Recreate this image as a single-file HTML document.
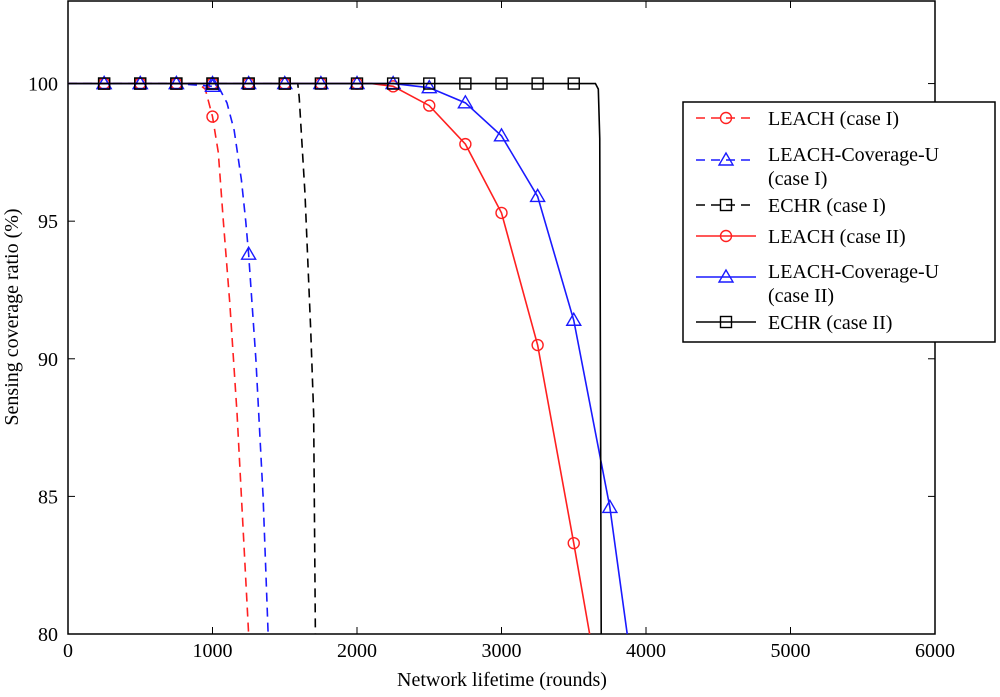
<!DOCTYPE html>
<html><head><meta charset="utf-8"><style>
body{margin:0;background:#fff}
svg text{font-family:"Liberation Serif",serif;fill:#000}
</style></head><body>
<svg id="c" width="1000" height="692" xmlns="http://www.w3.org/2000/svg"></svg>
<script>
const xTicks=[0,1000,2000,3000,4000,5000,6000];
const yTicks=[80,85,90,95,100];
const seriesNames=["LEACH (case I)","LEACH-Coverage-U|(case I)","ECHR (case I)","LEACH (case II)","LEACH-Coverage-U|(case II)","ECHR (case II)"];
const leachIx=[0,250,500,750,900,950,1000,1040,1075,1120,1170,1210,1250];
const leachIy=[100,100,100,100,100,99.8,98.8,97.5,95,92,88,84,80];
const covIx=[0,250,500,750,1000,1050,1100,1150,1200,1230,1250,1300,1350,1385];
const covIy=[100,100,100,100,99.9,99.8,99.3,98.3,96.5,95,93.8,90,85,80];
const echrIx=[0,250,500,750,1000,1250,1500,1590,1600,1640,1680,1700,1712];
const echrIy=[100,100,100,100,100,100,100,100,99.5,96,91,88,80];
const leachIIx=[0,250,500,750,1000,1250,1500,1750,2000,2100,2250,2500,2750,3000,3250,3500,3610];
const leachIIy=[100,100,100,100,100,100,100,100,100,100,99.9,99.2,97.8,95.3,90.5,83.3,80];
const covIIx=[0,250,500,750,1000,1250,1500,1750,2000,2250,2500,2750,3000,3250,3500,3750,3870];
const covIIy=[100,100,100,100,100,100,100,100,100,100,99.85,99.3,98.1,95.9,91.4,84.6,80];
const echrIIx=[0,250,500,750,1000,1250,1500,1750,2000,2250,2500,2750,3000,3250,3500,3650,3670,3680,3690];
const echrIIy=[100,100,100,100,100,100,100,100,100,100,100,100,100,100,100,100,99.8,98,80];
const L=68,R=935,T=1,B=634,XMAX=6000,YMIN=80,YMAX=103;
const X=v=>L+(v/XMAX)*(R-L), Y=v=>B-(v-YMIN)/(YMAX-YMIN)*(B-T);
const svg=document.getElementById('c');const NS='http://www.w3.org/2000/svg';
const FF='Liberation Serif, serif';
function mk(t,a,p){const e=document.createElementNS(NS,t);for(const k in a)e.setAttribute(k,a[k]);(p||svg).appendChild(e);return e;}
let box=mk('rect',{x:L,y:T,width:R-L,height:B-T,fill:'none',stroke:'#000','stroke-width':1.5});


xTicks.forEach(v=>{mk('line',{x1:X(v),x2:X(v),y1:B,y2:B-7,stroke:'#000'});mk('line',{x1:X(v),x2:X(v),y1:T,y2:T+7,stroke:'#000'});
 const t=mk('text',{x:X(v),y:657,'text-anchor':'middle','font-size':20,'font-family':FF});t.textContent=v;
 
 });
yTicks.forEach(v=>{mk('line',{x1:L,x2:L+7,y1:Y(v),y2:Y(v),stroke:'#000'});mk('line',{x1:R,x2:R-7,y1:Y(v),y2:Y(v),stroke:'#000'});
 const t=mk('text',{x:58,y:Y(v)+7,'text-anchor':'end','font-size':20,'font-family':FF});t.textContent=v;
 
 });
let xt=mk('text',{x:502,y:686,'text-anchor':'middle','font-size':20,'font-family':FF});xt.textContent='Network lifetime (rounds)';


let yt=mk('text',{x:0,y:0,'text-anchor':'middle','font-size':20,'font-family':FF,transform:'translate(18,317) rotate(-90)'});yt.textContent='Sensing coverage ratio (%)';


const series=[[leachIx,leachIy,'#ff2020','9,6','o'],[covIx,covIy,'#1a1aff','9,6','t'],[echrIx,echrIy,'#000','9,6','s'],
[leachIIx,leachIIy,'#ff2020','','o'],[covIIx,covIIy,'#1a1aff','','t'],[echrIIx,echrIIy,'#000','','s']];
function marker(g,k,x,y,c){
 if(k==='o')mk('circle',{cx:x,cy:y,r:5.5,fill:'none',stroke:c,'stroke-width':1.4},g);
 else if(k==='t')mk('polygon',{points:`${x},${y-7} ${x-7},${y+5} ${x+7},${y+5}`,fill:'none',stroke:c,'stroke-width':1.4},g);
 else mk('rect',{x:x-5.5,y:y-5.5,width:11,height:11,fill:'none',stroke:c,'stroke-width':1.4},g);
}
series.forEach((s,i)=>{const [xs,ys,c,d,k]=s;const g=mk('g',{});
 
 
 mk('polyline',{points:xs.map((v,j)=>X(v)+','+Y(ys[j])).join(' '),fill:'none',stroke:c,'stroke-width':1.6,'stroke-dasharray':d},g);
 xs.forEach((v,j)=>{if(v>0&&v%250===0&&ys[j]>YMIN)marker(g,k,X(v),Y(ys[j]),c);});
});
const lg=mk('g',{});


mk('rect',{x:683,y:102,width:312,height:240,fill:'#fff',stroke:'#000','stroke-width':1.5},lg);
const ly=[118,160,205,236,277,322];
series.forEach((s,i)=>{const [xs,ys,c,d,k]=s;const y=ly[i];const e=mk('g',{},lg);
 
 
 mk('line',{x1:696,x2:756,y1:y,y2:y,stroke:c,'stroke-width':1.6,'stroke-dasharray':d},e);
 marker(e,k,726,y,c);
 const parts=seriesNames[i].split('|');
 parts.forEach((p,j)=>{const yy=parts.length>1?(j?y+25:y+1):y+7;const t=mk('text',{x:768,y:yy,'font-size':20,'font-family':FF},e);t.textContent=p;});
});
</script>
</body></html>
